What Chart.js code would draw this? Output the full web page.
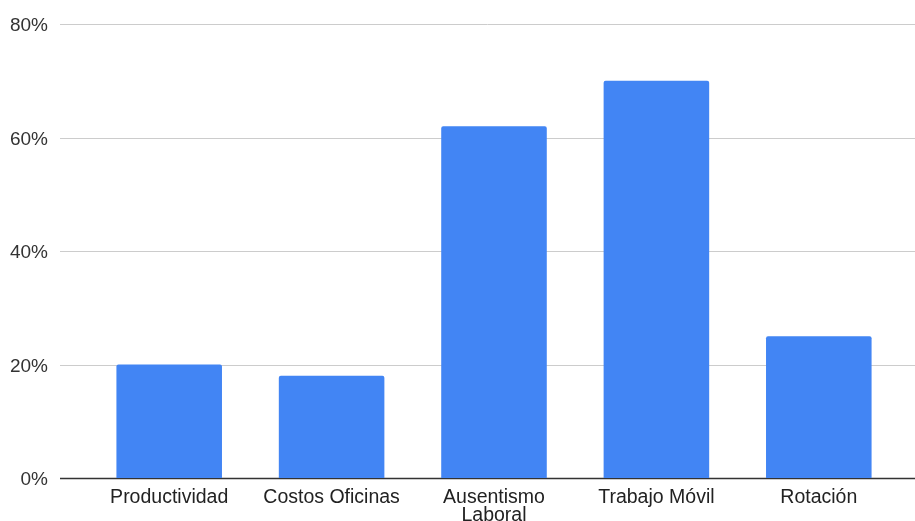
<!DOCTYPE html>
<html>
<head>
<meta charset="utf-8">
<script src="https://cdn.jsdelivr.net/npm/chart.js@4/dist/chart.umd.min.js"></script>
<style>
    html, body { margin: 0; padding: 0; background: #fff; }
</style>
</head>
<body>
<canvas id="chart" width="915" height="521"></canvas>
<script>
// chart data
const categories = ['Productividad', 'Costos Oficinas', ['Ausentismo', 'Laboral'], 'Trabajo Móvil', 'Rotación'];
const values = [20, 18, 62, 70, 25];
const yTicks = [0, 20, 40, 60, 80];

// horizontal gridlines, drawn wider than the plot area
const gridPlugin = {
    id: 'wideGrid',
    beforeDatasetsDraw(chart) {
        const ctx = chart.ctx;
        const y = chart.scales.y;
        ctx.save();
        yTicks.forEach(function(t) {
            const py = Math.round(y.getPixelForValue(t)) + 0.5;
            ctx.beginPath();
            ctx.strokeStyle = t === 0 ? '#333333' : '#cccccc';
            ctx.lineWidth = t === 0 ? 1.5 : 1;
            ctx.moveTo(60, py);
            ctx.lineTo(chart.width, py);
            ctx.stroke();
        });
        ctx.restore();
    }
};

const ctx = document.getElementById('chart').getContext('2d');
new Chart(ctx, {
    type: 'bar',
    data: {
        labels: categories,
        datasets: [{
            data: values,
            backgroundColor: '#4285f4',
            borderRadius: { topLeft: 2, topRight: 2 },
            borderSkipped: 'bottom',
            categoryPercentage: 0.65,
            barPercentage: 1
        }]
    },
    options: {
        responsive: false,
        animation: false,
        layout: { padding: { top: 24, right: 15, left: 0, bottom: 0 } },
        plugins: {
            legend: { display: false },
            tooltip: { enabled: false }
        },
        scales: {
            x: {
                afterFit: function(scale) { scale.height = 43; },
                grid: { display: false, drawTicks: false },
                border: { display: false },
                ticks: {
                    color: '#222',
                    padding: 11,
                    maxRotation: 0,
                    autoSkip: false,
                    font: { family: 'Liberation Sans, Arial', size: 19.5, lineHeight: '18px' }
                }
            },
            y: {
                min: 0,
                max: 80,
                afterFit: function(scale) { scale.width = 88; },
                afterBuildTicks: function(scale) {
                    scale.ticks = yTicks.map(function(v) { return { value: v }; });
                },
                grid: { display: false, drawTicks: true, tickLength: 28 },
                border: { display: false },
                ticks: {
                    color: '#333',
                    padding: 12,
                    labelOffset: 2,
                    font: { family: 'Liberation Sans, Arial', size: 19 },
                    callback: function(v) { return v + '%'; }
                }
            }
        }
    },
    plugins: [gridPlugin]
});
</script>
</body>
</html>
